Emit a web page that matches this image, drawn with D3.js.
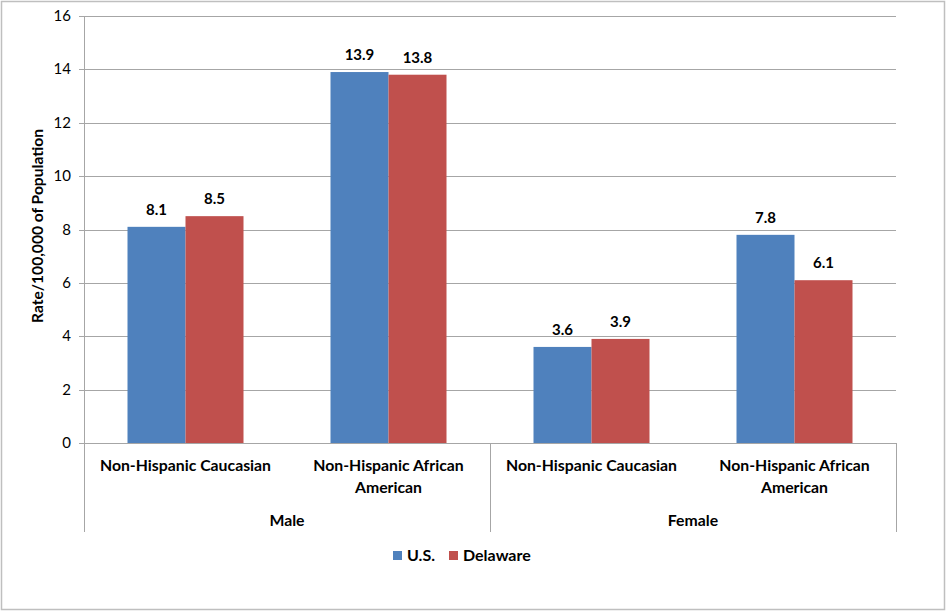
<!DOCTYPE html>
<html><head><meta charset="utf-8">
<script src="https://cdn.jsdelivr.net/npm/d3@7"></script>
<style>body{margin:0;background:#fff}svg{display:block}</style>
</head><body>
<svg id="c" width="946" height="613"></svg>
<script>
const groups = ["Male", "Female"];
const categories = [
  {group: "Male", lines: ["Non-Hispanic Caucasian"]},
  {group: "Male", lines: ["Non-Hispanic African", "American"]},
  {group: "Female", lines: ["Non-Hispanic Caucasian"]},
  {group: "Female", lines: ["Non-Hispanic African", "American"]}
];
const seriesNames = ["U.S.", "Delaware"];
const usValues = [8.1, 13.9, 3.6, 7.8];
const delawareValues = [8.5, 13.8, 3.9, 6.1];
const yTicks = [0, 2, 4, 6, 8, 10, 12, 14, 16];
const colors = ["#4F81BD", "#C0504D"];
const series = [usValues, delawareValues];

const svg = d3.select("#c");
const font = "Lato, 'Open Sans', sans-serif";
svg.append("rect").attr("x", 1.5).attr("y", 1.5).attr("width", 943).attr("height", 608)
  .attr("fill", "#fff").attr("stroke", "#BFBFBF").attr("stroke-width", 1.5);

const L = 84, R = 896, T = 16, B = 443;
const x = d3.scaleBand().domain(d3.range(categories.length)).range([L, R]).paddingInner(0).paddingOuter(0);
const y = d3.scaleLinear().domain([0, 16]).range([B, T]);
const inner = d3.scaleBand().domain(d3.range(series.length)).range([0, x.bandwidth()]).paddingInner(0).paddingOuter(0.75);

// gridlines
svg.append("g").selectAll("line").data(yTicks).join("line")
  .attr("x1", L - 5).attr("x2", R).attr("y1", d => Math.round(y(d)) + 0.5).attr("y2", d => Math.round(y(d)) + 0.5)
  .attr("stroke", "#A6A6A6").attr("stroke-width", 1);

svg.append("line").attr("x1", L + 0.5).attr("x2", L + 0.5).attr("y1", T).attr("y2", 532)
  .attr("stroke", "#A6A6A6");
svg.append("line").attr("x1", R + 0.5).attr("x2", R + 0.5).attr("y1", B).attr("y2", 532)
  .attr("stroke", "#A6A6A6");
svg.append("line").attr("x1", 490.5).attr("x2", 490.5).attr("y1", B).attr("y2", 532)
  .attr("stroke", "#A6A6A6");

svg.append("g").selectAll("text").data(yTicks).join("text")
  .attr("x", 71).attr("y", d => y(d) + 5).attr("text-anchor", "end")
  .attr("font-family", font).attr("font-size", 15).attr("fill", "#000").text(d => d);

// bars
series.forEach((vals, si) => {
  svg.append("g").selectAll("rect").data(vals).join("rect")
    .attr("x", (d, i) => x(i) + inner(si)).attr("width", inner.bandwidth())
    .attr("y", d => y(d)).attr("height", d => B - y(d)).attr("fill", colors[si]);
  svg.append("g").selectAll("text").data(vals).join("text")
    .attr("x", (d, i) => x(i) + inner(si) + inner.bandwidth() / 2)
    .attr("y", d => y(d) - 12).attr("text-anchor", "middle")
    .attr("font-family", font).attr("font-weight", "bold").attr("font-size", 15)
    .text(d => d.toFixed(1));
});

// category labels
categories.forEach((c, i) => {
  c.lines.forEach((ln, li) => {
    svg.append("text").attr("x", x(i) + x.bandwidth() / 2).attr("y", 471 + li * 22)
      .attr("text-anchor", "middle").attr("font-family", font).attr("font-weight", "bold")
      .attr("font-size", 15.8).text(ln);
  });
});
groups.forEach((g, gi) => {
  const idx = categories.map((c, i) => c.group === g ? i : -1).filter(i => i >= 0);
  const cx = (x(idx[0]) + x(idx[idx.length - 1]) + x.bandwidth()) / 2;
  svg.append("text").attr("x", cx).attr("y", 526).attr("text-anchor", "middle")
    .attr("font-family", font).attr("font-weight", "bold").attr("font-size", 15.8).text(g);
});

// y title
svg.append("text").attr("transform", "translate(43,226) rotate(-90)").attr("text-anchor", "middle")
  .attr("font-family", font).attr("font-weight", "bold").attr("font-size", 15.6)
  .text("Rate/100,000 of Population");

// legend
const legX = [393, 449];
seriesNames.forEach((s, i) => {
  svg.append("rect").attr("x", legX[i]).attr("y", 551).attr("width", 9).attr("height", 9).attr("fill", colors[i]);
  svg.append("text").attr("x", legX[i] + 14).attr("y", 561).attr("font-family", font)
    .attr("font-weight", "bold").attr("font-size", 16).text(s);
});
</script>
</body></html>
